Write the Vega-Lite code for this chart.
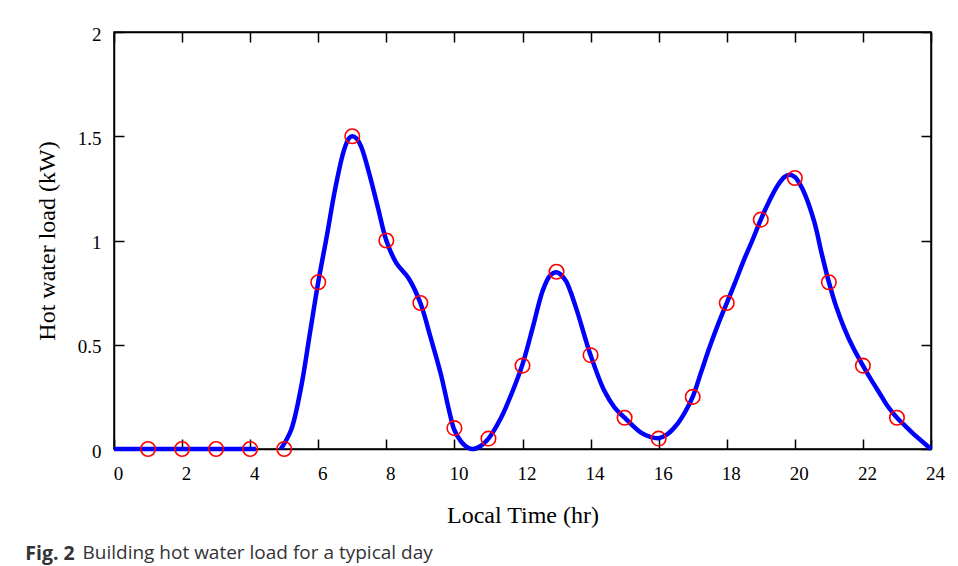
{
  "$schema": "https://vega.github.io/schema/vega-lite/v6.json",
  "padding": {"left": 24, "top": 24, "right": 0, "bottom": 0},
  "background": "white",
  "title": {"text": "Building hot water load for a typical day", "orient": "bottom", "anchor": "start", "font": "Open Sans", "fontSize": 19, "fontWeight": "normal", "color": "#333333", "dx": 58, "dy": -20, "offset": 0},
  "vconcat": [
    {
      "title": {"text": "Fig. 2", "orient": "bottom", "anchor": "start", "font": "Open Sans", "fontSize": 19.5, "fontWeight": "bold", "color": "#333333", "dx": -10, "offset": 18},
      "width": 817,
      "height": 417,
      "layer": [
        {
          "data": {"values": [
            {"t": 0, "v": 0, "seg": 1}, {"t": 1, "v": 0, "seg": 1}, {"t": 2, "v": 0, "seg": 1}, {"t": 3, "v": 0, "seg": 1}, {"t": 4, "v": 0, "seg": 1}, {"t": 4.17, "v": 0, "seg": 1},
            {"t": 4.9, "v": 0, "seg": 2}, {"t": 5.2, "v": 0.09, "seg": 2}, {"t": 5.5, "v": 0.3, "seg": 2}, {"t": 5.75, "v": 0.55, "seg": 2}, {"t": 6.0, "v": 0.8, "seg": 2}, {"t": 6.25, "v": 1.02, "seg": 2}, {"t": 6.5, "v": 1.25, "seg": 2}, {"t": 6.75, "v": 1.43, "seg": 2}, {"t": 6.9, "v": 1.49, "seg": 2}, {"t": 7.0, "v": 1.5, "seg": 2}, {"t": 7.12, "v": 1.49, "seg": 2}, {"t": 7.26, "v": 1.45, "seg": 2}, {"t": 7.5, "v": 1.32, "seg": 2}, {"t": 7.75, "v": 1.16, "seg": 2}, {"t": 8.0, "v": 1.0, "seg": 2}, {"t": 8.3, "v": 0.89, "seg": 2}, {"t": 8.65, "v": 0.82, "seg": 2}, {"t": 9.0, "v": 0.7, "seg": 2}, {"t": 9.3, "v": 0.535, "seg": 2}, {"t": 9.6, "v": 0.36, "seg": 2}, {"t": 9.85, "v": 0.18, "seg": 2}, {"t": 10.0, "v": 0.09, "seg": 2}, {"t": 10.2, "v": 0.035, "seg": 2}, {"t": 10.4, "v": 0.006, "seg": 2}, {"t": 10.55, "v": 0.0, "seg": 2}, {"t": 10.75, "v": 0.012, "seg": 2}, {"t": 11.0, "v": 0.05, "seg": 2}, {"t": 11.37, "v": 0.15, "seg": 2}, {"t": 11.71, "v": 0.278, "seg": 2}, {"t": 12.0, "v": 0.406, "seg": 2}, {"t": 12.3, "v": 0.582, "seg": 2}, {"t": 12.59, "v": 0.758, "seg": 2}, {"t": 12.8, "v": 0.83, "seg": 2}, {"t": 12.98, "v": 0.848, "seg": 2}, {"t": 13.1, "v": 0.84, "seg": 2}, {"t": 13.28, "v": 0.805, "seg": 2}, {"t": 13.57, "v": 0.678, "seg": 2}, {"t": 14.0, "v": 0.45, "seg": 2}, {"t": 14.4, "v": 0.28, "seg": 2}, {"t": 14.7, "v": 0.2, "seg": 2}, {"t": 15.0, "v": 0.15, "seg": 2}, {"t": 15.48, "v": 0.078, "seg": 2}, {"t": 15.75, "v": 0.058, "seg": 2}, {"t": 16.0, "v": 0.052, "seg": 2}, {"t": 16.25, "v": 0.07, "seg": 2}, {"t": 16.5, "v": 0.11, "seg": 2}, {"t": 16.75, "v": 0.17, "seg": 2}, {"t": 17.0, "v": 0.25, "seg": 2}, {"t": 17.25, "v": 0.37, "seg": 2}, {"t": 17.5, "v": 0.49, "seg": 2}, {"t": 17.75, "v": 0.6, "seg": 2}, {"t": 18.0, "v": 0.7, "seg": 2}, {"t": 18.25, "v": 0.8, "seg": 2}, {"t": 18.5, "v": 0.905, "seg": 2}, {"t": 18.75, "v": 1.0, "seg": 2}, {"t": 19.0, "v": 1.1, "seg": 2}, {"t": 19.25, "v": 1.19, "seg": 2}, {"t": 19.5, "v": 1.265, "seg": 2}, {"t": 19.7, "v": 1.305, "seg": 2}, {"t": 19.85, "v": 1.315, "seg": 2}, {"t": 20.0, "v": 1.305, "seg": 2}, {"t": 20.15, "v": 1.27, "seg": 2}, {"t": 20.3, "v": 1.22, "seg": 2}, {"t": 20.57, "v": 1.09, "seg": 2}, {"t": 20.8, "v": 0.93, "seg": 2}, {"t": 21.0, "v": 0.8, "seg": 2}, {"t": 21.2, "v": 0.69, "seg": 2}, {"t": 21.45, "v": 0.58, "seg": 2}, {"t": 21.7, "v": 0.49, "seg": 2}, {"t": 22.0, "v": 0.4, "seg": 2}, {"t": 22.25, "v": 0.33, "seg": 2}, {"t": 22.5, "v": 0.265, "seg": 2}, {"t": 22.75, "v": 0.2, "seg": 2}, {"t": 23.0, "v": 0.15, "seg": 2}, {"t": 23.25, "v": 0.11, "seg": 2}, {"t": 23.5, "v": 0.07, "seg": 2}, {"t": 23.75, "v": 0.035, "seg": 2}, {"t": 24, "v": 0, "seg": 2}
          ]},
          "mark": {"type": "line", "color": "#0000ff", "strokeWidth": 4.5, "interpolate": "catmull-rom"},
          "encoding": {
            "x": {"field": "t", "type": "quantitative", "scale": {"domain": [0, 24], "nice": false, "zero": false},
                  "axis": {"orient": "bottom", "values": [0, 2, 4, 6, 8, 10, 12, 14, 16, 18, 20, 22, 24], "title": "Local Time (hr)", "labelFlush": false, "labelPadding": 25, "labelOffset": 4, "titlePadding": 20}},
            "y": {"field": "v", "type": "quantitative", "scale": {"domain": [0, 2], "nice": false},
                  "axis": {"orient": "left", "values": [0, 0.5, 1, 1.5, 2], "format": "~g", "title": "Hot water load (kW)", "labelFlush": false, "labelPadding": 23, "labelOffset": 2, "titlePadding": 18}},
            "detail": {"field": "seg", "type": "nominal"}
          }
        },
        {
          "data": {"values": [
            {"t": 1, "v": 0}, {"t": 2, "v": 0}, {"t": 3, "v": 0}, {"t": 4, "v": 0}, {"t": 5, "v": 0},
            {"t": 6, "v": 0.8}, {"t": 7, "v": 1.5}, {"t": 8, "v": 1.0}, {"t": 9, "v": 0.7}, {"t": 10, "v": 0.1},
            {"t": 11, "v": 0.05}, {"t": 12, "v": 0.4}, {"t": 13, "v": 0.85}, {"t": 14, "v": 0.45}, {"t": 15, "v": 0.15},
            {"t": 16, "v": 0.05}, {"t": 17, "v": 0.25}, {"t": 18, "v": 0.7}, {"t": 19, "v": 1.1}, {"t": 20, "v": 1.3},
            {"t": 21, "v": 0.8}, {"t": 22, "v": 0.4}, {"t": 23, "v": 0.15}
          ]},
          "mark": {"type": "point", "shape": "circle", "filled": false, "color": "#ff0000", "size": 210, "strokeWidth": 1.6, "opacity": 1},
          "encoding": {
            "x": {"field": "t", "type": "quantitative", "axis": {"orient": "top", "values": [0, 2, 4, 6, 8, 10, 12, 14, 16, 18, 20, 22, 24], "labels": false, "title": null}},
            "y": {"field": "v", "type": "quantitative", "axis": {"orient": "right", "values": [0, 0.5, 1, 1.5, 2], "labels": false, "title": null}}
          }
        }
      ],
      "resolve": {"axis": {"x": "independent", "y": "independent"}}
    }
  ],
  "config": {
    "view": {"stroke": "black", "strokeWidth": 1.5},
    "axis": {"grid": false, "domainColor": "black", "domainWidth": 1.5, "tickColor": "black", "tickWidth": 1.5, "tickSize": -10,
             "labelFont": "Liberation Serif", "labelFontSize": 19, "labelColor": "black",
             "titleFont": "Liberation Serif", "titleFontSize": 24, "titleFontWeight": "normal", "titleColor": "black"}
  }
}
